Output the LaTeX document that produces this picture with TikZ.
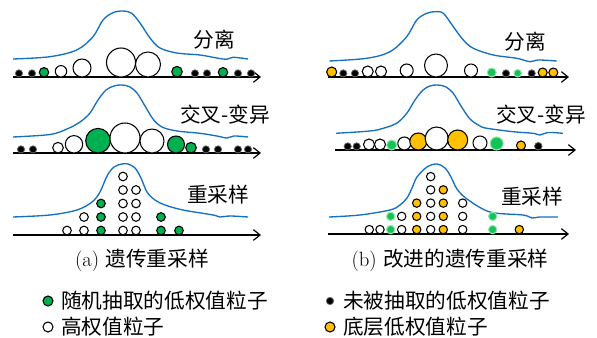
\documentclass[tikz,border=0pt]{standalone}
\usepackage{fontspec}
\newfontfamily\cjk{Noto Sans CJK SC}
\usetikzlibrary{arrows.meta}
\definecolor{pgreen}{RGB}{0,176,80}
\definecolor{pgreenb}{RGB}{20,195,85}
\definecolor{porange}{RGB}{255,192,0}
\definecolor{pblue}{RGB}{20,112,192}
\begin{document}
\begin{tikzpicture}[x=0.75pt,y=-0.75pt,
  axisline/.style={line width=0.9pt,-{Straight Barb[length=5pt,width=8pt,line width=0.9pt]}},
  bell/.style={pblue,line width=1pt},
  pdot/.style={circle,inner sep=0pt,outer sep=0pt,line width=0.8pt},
  blk/.style={pdot,fill=black,draw=black!60,line width=0.6pt},
  wht/.style={pdot,draw=black,fill=white},
  grn/.style={pdot,draw=black,fill=pgreen},
  grb/.style={pdot,fill=pgreenb,draw=pgreenb!45!white},
  org/.style={pdot,draw=black,fill=porange},
  lbl/.style={font=\fontsize{15.5}{18}\selectfont\cjk,inner sep=0pt},
  captxt/.style={font=\fontsize{15.5}{18}\selectfont,inner sep=0pt}]
\useasboundingbox (0,0) rectangle (597,338);

% ---------- panel (a) ----------
\draw[bell] plot[smooth,tension=0.55] coordinates {(13,59) (50,56.7) (76.7,50) (93,36.7) (103,20) (113,12.7) (123,11) (131.7,13.3) (140,23) (150,38) (160,48) (176.7,53) (200,55) (216.7,58) (226.7,59.3) (233,57.3) (248,59)};
\coordinate (a1s) at (13,77); \coordinate (a1e) at (261,77);
\draw[axisline] (a1s) -- (a1e);
\foreach \xx/\rr/\ss [count=\i] in {19/3.6/blk,32/3.6/blk,44/4.7/grn,61/5.7/wht,82/9/wht,121/14.5/wht,148/12.5/wht,177/5.3/grn,195/3.6/blk,207/3.6/blk,223/4.7/grn,238/3.6/blk,251/3.6/blk}
  \node[\ss,minimum size={1.5*\rr pt}] (a1p\i) at (\xx,{77-\rr}) {};
\node[lbl] (a1t) at (214,40) {分离};

\draw[bell] plot[smooth,tension=0.55] coordinates {(13,137) (50,134.5) (67,129) (80,122) (90,113) (98,100) (106,90) (114,86) (121,85) (129,86.5) (137,93) (145,106) (153,119) (162,127) (177,131) (200,133.3) (216.7,136) (227,138) (234,136) (248,137)};
\coordinate (a2s) at (13,153); \coordinate (a2e) at (261,153);
\draw[axisline] (a2s) -- (a2e);
\foreach \xx/\rr/\ss [count=\i] in {21/3.6/blk,33/3.6/blk,58/5.3/wht,74/8.7/wht,98/12.3/grn,125/15/wht,152/12/wht,176/8.5/grn,191/5.3/grn,206/3.6/blk,218/3.6/blk,238/3.6/blk,248/3.6/blk}
  \node[\ss,minimum size={1.5*\rr pt}] (a2p\i) at (\xx,{153-\rr}) {};
\node[lbl] (a2t) at (225,115) {交叉-变异};

\draw[bell] plot[smooth,tension=0.55] coordinates {(13,217) (50,215) (77,210) (92,202) (100,192) (107,176) (114,167) (122,164) (128,164) (135,168) (141,178) (147,192) (155,200) (165,205) (183,210) (213,215) (220,217) (230,216) (248,217)};
\coordinate (a3s) at (13,235); \coordinate (a3e) at (261,235);
\draw[axisline] (a3s) -- (a3e);
\foreach \xx/\nn/\ss [count=\j] in {67/1/wht,84/2/wht,101/3/grn,123/5/wht,136/4/wht,161/2/grn,179/1/grn}
  \foreach \k in {1,...,\nn}
    \node[\ss,minimum size={1.5*4.3pt}] (a3c\j r\k) at (\xx,{235-4.5-(\k-1)*13.5}) {};
\node[lbl] (a3t) at (218,195) {重采样};

\node[captxt] (capa) at (142,260) {(a) {\cjk 遗传重采样}};

% ---------- panel (b) ----------
\draw[bell] plot[smooth,tension=0.55] coordinates {(329.3,61) (366.7,58.3) (390,51.7) (406.7,36.7) (416.7,20) (426.7,13.3) (435,11.7) (443.3,13.3) (453.3,26.7) (463.3,40) (473.3,48.3) (493.3,55) (516.7,58.3) (530,61.7) (538.3,60) (556.7,61)};
\coordinate (b1s) at (328,77); \coordinate (b1e) at (569,77);
\draw[axisline] (b1s) -- (b1e);
\foreach \xx/\rr/\ss [count=\i] in {331.7/5/org,343.3/3.6/blk,355/3.6/blk,367.7/5.5/wht,381/5.5/wht,406.7/6.5/wht,436/11.5/wht,471/6.5/wht,491.7/4.5/grb,506/3.6/blk,517.7/3.8/grb,531.7/3.6/blk,542.7/4.5/org,553.3/4.5/org}
  \node[\ss,minimum size={1.5*\rr pt}] (b1p\i) at (\xx,{77-\rr}) {};
\node[lbl] (b1t) at (525,42) {分离};

\draw[bell] plot[smooth,tension=0.55] coordinates {(336,133.3) (370,131) (383.3,128.3) (397,123) (407,113) (415,100) (423,90) (430,86) (437,85) (445,86.5) (453,93) (461,106) (470,119) (480,126) (487,128.3) (513,131.7) (533,133.3) (540,135) (548,132.5) (563,133.3)};
\coordinate (b2s) at (335,150); \coordinate (b2e) at (576,150);
\draw[axisline] (b2s) -- (b2e);
\foreach \xx/\rr/\ss [count=\i] in {347.7/3.6/blk,356.7/3.6/blk,369/5.5/wht,380/5.5/wht,391.7/5/grb,404.3/6.5/wht,418.3/8.5/org,436.7/11.5/wht,457.7/10/org,480/7/wht,496.7/6.5/grb,521/4.5/org,538.3/3.8/blk}
  \node[\ss,minimum size={1.5*\rr pt}] (b2p\i) at (\xx,{150-\rr}) {};
\node[lbl] (b2t) at (541,115) {交叉-变异};

\draw[bell] plot[smooth,tension=0.55] coordinates {(329,217) (360,215) (390,210) (400,205) (407,198) (412,188) (417,177) (427,167) (437,164) (445,168) (451,177) (457,189) (467,199) (490,212) (523,215) (532,218) (540,217) (558,217)};
\coordinate (b3s) at (328,234); \coordinate (b3e) at (569,234);
\draw[axisline] (b3s) -- (b3e);
\foreach \xx/\nn/\ss [count=\j] in {369.3/1/wht,380/1/wht,390.7/2/grb,401.7/2/wht,416.7/3/org,430.7/5/wht,443.3/4/org,462.7/3/wht,492.7/2/grb,519.3/1/org}
  \foreach \k in {1,...,\nn}
    \node[\ss,minimum size={1.5*4.2pt}] (b3c\j r\k) at (\xx,{234-4.4-(\k-1)*13.25}) {};
\node[lbl] (b3t) at (532,197) {重采样};

\node[captxt] (capb) at (450,260) {(b) {\cjk 改进的遗传重采样}};

% ---------- legend ----------
\node[grn,minimum size=7.5pt] (lg1) at (48,301) {};
\node[lbl,anchor=west] (lt1) at (61,301) {随机抽取的低权值粒子};
\node[wht,minimum size=7.5pt] (lg2) at (48,327) {};
\node[lbl,anchor=west] (lt2) at (61,327) {高权值粒子};
\node[blk,minimum size=5.5pt] (lg3) at (330,301) {};
\node[lbl,anchor=west] (lt3) at (343,301) {未被抽取的低权值粒子};
\node[org,minimum size=7.5pt] (lg4) at (330,327) {};
\node[lbl,anchor=west] (lt4) at (343,327) {底层低权值粒子};
\end{tikzpicture}
\end{document}
